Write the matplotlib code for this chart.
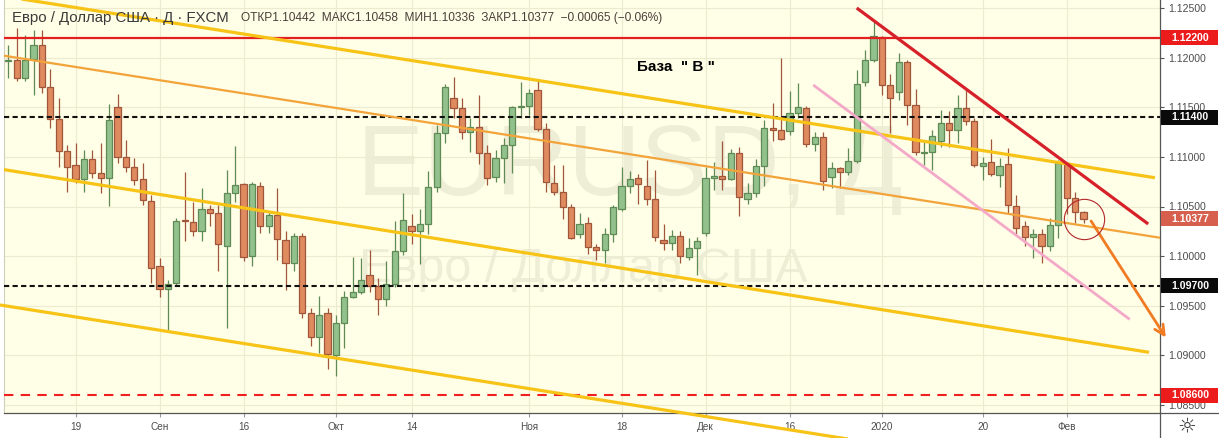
import matplotlib
matplotlib.use("Agg")
import matplotlib.pyplot as plt
import matplotlib.transforms as mtransforms
from matplotlib.patches import Rectangle
from matplotlib.lines import Line2D

plt.rcParams['font.family'] = ['Liberation Sans', 'DejaVu Sans']

# ---------------- data (daily EUR/USD candles, bar index 0 = first visible bar) -------------
opens = [1.1197, 1.1198, 1.1179, 1.1199, 1.1213, 1.1170, 1.1138, 1.1106, 1.1092, 1.1078,
         1.1098, 1.1084, 1.1079, 1.1150, 1.1100, 1.1090, 1.1078, 1.1056, 1.0990, 1.0967,
         1.0973, 1.1036, 1.1034, 1.1025, 1.1047, 1.1043, 1.1010, 1.1064, 1.1073, 1.1000,
         1.1071, 1.1030, 1.1041, 1.1016, 1.0993, 1.1020, 1.0943, 1.0919, 1.0943, 1.0900,
         1.0933, 1.0959, 1.0964, 1.0981, 1.0970, 1.0957, 1.0972, 1.1005, 1.1030, 1.1025,
         1.1032, 1.1070, 1.1124, 1.1159, 1.1149, 1.1125, 1.1130, 1.1104, 1.1080, 1.1099,
         1.1112, 1.1150, 1.1151, 1.1167, 1.1128, 1.1074, 1.1065, 1.1049, 1.1022, 1.1033,
         1.1009, 1.1006, 1.1022, 1.1047, 1.1071, 1.1079, 1.1071, 1.1058, 1.1016, 1.1013,
         1.1020, 1.0999, 1.1008, 1.1023, 1.1079, 1.1081, 1.1078, 1.1104, 1.1058, 1.1064,
         1.1091, 1.1129, 1.1127, 1.1126, 1.1144, 1.1149, 1.1113, 1.1120, 1.1080, 1.1089,
         1.1085, 1.1096, 1.1175, 1.1198, 1.1221, 1.1172, 1.1165, 1.1196, 1.1152, 1.1104,
         1.1105, 1.1116, 1.1134, 1.1127, 1.1149, 1.1136, 1.1091, 1.1095, 1.1082, 1.1093,
         1.1051, 1.1030, 1.1019, 1.1022, 1.1010, 1.1031, 1.1094, 1.1059, 1.10442]
highs = [1.1213, 1.1230, 1.1223, 1.1228, 1.1228, 1.1189, 1.1159, 1.1112, 1.1114, 1.1107,
         1.1107, 1.1114, 1.1153, 1.1163, 1.1117, 1.1099, 1.1094, 1.1062, 1.0998, 1.0976,
         1.1038, 1.1085, 1.1055, 1.1069, 1.1052, 1.1052, 1.1087, 1.1111, 1.1074, 1.1075,
         1.1075, 1.1045, 1.1069, 1.1025, 1.1023, 1.1023, 1.0948, 1.0960, 1.0948, 1.0941,
         1.0965, 1.0999, 1.0998, 1.1006, 1.0978, 1.0995, 1.1035, 1.1064, 1.1042, 1.1047,
         1.1086, 1.1132, 1.1173, 1.1180, 1.1159, 1.1139, 1.1162, 1.1112, 1.1107, 1.1119,
         1.1151, 1.1175, 1.1168, 1.1176, 1.1134, 1.1092, 1.1092, 1.1053, 1.1043, 1.1039,
         1.1012, 1.1028, 1.1052, 1.1090, 1.1086, 1.1083, 1.1097, 1.1087, 1.1032, 1.1026,
         1.1025, 1.1018, 1.1019, 1.1090, 1.1095, 1.1116, 1.1108, 1.1110, 1.1074, 1.1098,
         1.1137, 1.1154, 1.1200, 1.1166, 1.1174, 1.1151, 1.1125, 1.1125, 1.1095, 1.1090,
         1.1109, 1.1188, 1.1208, 1.1236, 1.1222, 1.1184, 1.1205, 1.1198, 1.1168, 1.1117,
         1.1127, 1.1147, 1.1146, 1.1162, 1.1169, 1.1139, 1.1100, 1.1118, 1.1099, 1.1109,
         1.1062, 1.1035, 1.1027, 1.1027, 1.1038, 1.1097, 1.1095, 1.1065, 1.10458]
lows = [1.1179, 1.1176, 1.1176, 1.1162, 1.1164, 1.1129, 1.1090, 1.1065, 1.1074, 1.1065,
        1.1079, 1.1064, 1.1051, 1.1094, 1.1085, 1.1072, 1.1052, 1.0973, 1.0959, 1.0926,
        1.0971, 1.1015, 1.1020, 1.1015, 1.1030, 1.0985, 1.0928, 1.1055, 1.0995, 1.0990,
        1.1023, 1.1023, 1.0996, 1.0966, 1.0985, 1.0938, 1.0909, 1.0902, 1.0886, 1.0879,
        1.0907, 1.0958, 1.0962, 1.0964, 1.0941, 1.0950, 1.0969, 1.1001, 1.1012, 1.0992,
        1.1022, 1.1065, 1.1114, 1.1139, 1.1118, 1.1105, 1.1093, 1.1072, 1.1075, 1.1074,
        1.1084, 1.1139, 1.1142, 1.1126, 1.1065, 1.1062, 1.1037, 1.1017, 1.1018, 1.1002,
        1.0996, 1.0993, 1.1014, 1.1045, 1.1064, 1.1053, 1.1052, 1.1015, 1.1006, 1.1006,
        1.0993, 1.0996, 1.0981, 1.1020, 1.1067, 1.1067, 1.1077, 1.1040, 1.1053, 1.1060,
        1.1071, 1.1116, 1.1117, 1.1122, 1.1139, 1.1110, 1.1106, 1.1067, 1.1069, 1.1069,
        1.1082, 1.1094, 1.1171, 1.1196, 1.1162, 1.1124, 1.1157, 1.1132, 1.1102, 1.1092,
        1.1087, 1.1110, 1.1110, 1.1114, 1.1132, 1.1090, 1.1077, 1.1081, 1.1070, 1.1043,
        1.1022, 1.1010, 1.0998, 1.0993, 1.1005, 1.1018, 1.1042, 1.1033, 1.10336]
closes = [1.1198, 1.1179, 1.1198, 1.1213, 1.1170, 1.1138, 1.1106, 1.1090, 1.1078, 1.1098,
          1.1084, 1.1079, 1.1137, 1.1100, 1.1090, 1.1077, 1.1057, 1.0988, 1.0967, 1.0972,
          1.1035, 1.1035, 1.1025, 1.1047, 1.1043, 1.1012, 1.1064, 1.1072, 1.0999, 1.1073,
          1.1030, 1.1041, 1.1017, 1.0993, 1.1020, 1.0943, 1.0919, 1.0941, 1.0901, 1.0933,
          1.0959, 1.0964, 1.0976, 1.0970, 1.0957, 1.0972, 1.1005, 1.1036, 1.1025, 1.1032,
          1.1070, 1.1124, 1.1170, 1.1149, 1.1125, 1.1130, 1.1104, 1.1079, 1.1099, 1.1112,
          1.1150, 1.1151, 1.1164, 1.1128, 1.1075, 1.1065, 1.1049, 1.1018, 1.1032, 1.1009,
          1.1006, 1.1022, 1.1049, 1.1071, 1.1078, 1.1073, 1.1058, 1.1019, 1.1013, 1.1020,
          1.1000, 1.1008, 1.1015, 1.1079, 1.1081, 1.1078, 1.1104, 1.1060, 1.1064, 1.1091,
          1.1129, 1.1127, 1.1118, 1.1144, 1.1150, 1.1113, 1.1120, 1.1076, 1.1089, 1.1085,
          1.1096, 1.1173, 1.1198, 1.1222, 1.1172, 1.1159, 1.1196, 1.1152, 1.1105, 1.1105,
          1.1121, 1.1134, 1.1127, 1.1149, 1.1136, 1.1092, 1.1094, 1.1083, 1.1091, 1.1052,
          1.1028, 1.1019, 1.1022, 1.1010, 1.1031, 1.1094, 1.1059, 1.1044, 1.10377]

tick_positions = [8, 18, 28, 39, 48, 62, 73, 83, 93, 104, 116, 126]
tick_labels = ["19", "Сен", "16", "Окт", "14", "Ноя", "18", "Дек", "16", "2020", "20", "Фев"]
price_ticks = [1.085, 1.090, 1.095, 1.100, 1.105, 1.110, 1.115, 1.120, 1.125]

level_red = 1.1220
levels_black = [1.1140, 1.0970]
level_red_dash = 1.0860
last_price = 1.10377

# trend lines: (bar index, price) endpoints
channel_top = [(-1.0, 1.12625), (136.5, 1.1079)]
channel_mid = [(-1.0, 1.12026), (137.5, 1.10180)]
channel_low = [(-1.0, 1.10878), (135.8, 1.09031)]
channel_bottom = [(-1.0, 1.09508), (100.5, 1.08150)]
resist_line = [(101.0, 1.1250), (135.7, 1.10324)]
support_line = [(95.83, 1.11724), (133.5, 1.09363)]
forecast_arrow = [(128.9, 1.10354), (137.8, 1.09180)]
circle_center = (128.0, 1.10374)
note_pos = (74.8, 1.11906)

# ---------------- figure ----------------
W, H = 1219, 438
fig = plt.figure(figsize=(W / 100, H / 100), dpi=100)
fig.patch.set_facecolor('white')
ax_l, ax_r, ax_b = 4, 1160, 413
ax = fig.add_axes([ax_l / W, (H - ax_b) / H, (ax_r - ax_l) / W, ax_b / H])
bg = '#fffee6'
ax.set_facecolor(bg)

x0 = (ax_l - 8.3) / 8.4
x1 = (ax_r - 8.3) / 8.4
ax.set_xlim(x0, x1)
ax.set_ylim(1.125 - (413 - 8) / 9925, 1.125 + 8 / 9925)

ax.set_axisbelow(True)
ax.grid(True, color='#ecebd0', lw=0.8)

# watermark
wm = '#eeedd6'
ax.text(0.5415, 0.528, 'EURUSD, Д', transform=ax.transAxes, fontsize=72,
        color=wm, ha='center', va='baseline', zorder=0.5)
ax.text(0.5009, 0.317, 'Евро / Доллар США', transform=ax.transAxes, fontsize=35,
        color=wm, ha='center', va='baseline', zorder=0.5)

# candles
g_fill, g_edge = '#93c18d', '#5e8a55'
r_fill, r_edge = '#e08a5f', '#a0563a'
idx = list(range(len(opens)))
for i, o, h, l, c in zip(idx, opens, highs, lows, closes):
    up = c >= o
    fill, edge = (g_fill, g_edge) if up else (r_fill, r_edge)
    ax.vlines(i, l, h, color=edge, lw=0.9, zorder=2.9)
    bottom = min(o, c)
    height = max(abs(c - o), 0.00003)
    ax.bar(i, height, bottom=bottom, width=0.72, color=fill, edgecolor=edge,
           linewidth=0.9, zorder=3)

# horizontal levels
ax.axhline(level_red, color='#e3201f', lw=1.6, zorder=4)
for lv in levels_black:
    ax.axhline(lv, color='#111111', lw=1.5, ls=(0, (2.5, 1.6)), zorder=4)
ax.axhline(level_red_dash, color='#f02020', lw=1.5, ls=(0, (4.5, 3.5)), zorder=4)

def seg(pts, **kw):
    (xa, ya), (xb, yb) = pts
    return ax.plot([xa, xb], [ya, yb], solid_capstyle='butt', **kw)

yellow = '#f7c316'
seg(channel_top, color=yellow, lw=2.3, zorder=5)
seg(channel_mid, color='#f2a33a', lw=1.6, zorder=5)
seg(channel_low, color=yellow, lw=2.3, zorder=5)
seg(channel_bottom, color=yellow, lw=2.3, zorder=5, clip_on=False)
seg(resist_line, color='#d6202a', lw=2.3, zorder=6)
seg(support_line, color='#f4a9c8', lw=2.0, zorder=6)

(ax0, ay0), (ax1, ay1) = forecast_arrow
ann = ax.annotate('', xy=(ax1, ay1), xytext=(ax0, ay0),
                  arrowprops=dict(arrowstyle='->,head_length=0.7,head_width=0.35',
                                  color='#f07b22', lw=2.0, shrinkA=0, shrinkB=0),
                  annotation_clip=False, zorder=7)
ann.arrow_patch.set_clip_on(False)

ax.plot([circle_center[0]], [circle_center[1]], marker='o', ms=29, mfc='none',
        mec='#b3262b', mew=0.8, zorder=7)

ax.text(note_pos[0], note_pos[1], 'База  " В "', fontsize=11, fontweight='bold',
        color='black', ha='left', va='center', zorder=8)

# axes styling
ax.spines['top'].set_visible(False)
ax.spines['left'].set_color('#d0d0c0')
ax.spines['left'].set_linewidth(0.8)
ax.spines['right'].set_color('#555555')
ax.spines['right'].set_linewidth(0.9)
ax.spines['bottom'].set_color('#555555')
ax.spines['bottom'].set_linewidth(0.9)

ax.yaxis.tick_right()
ax.set_yticks(price_ticks)
ax.set_yticklabels([f'{p:.5f}' for p in price_ticks])
ax.tick_params(axis='y', length=3, width=0.8, color='#555555', pad=3,
               labelsize=7.6, labelcolor='#4d4d4d')
ax.set_xticks(tick_positions)
ax.set_xticklabels(tick_labels)
ax.tick_params(axis='x', length=3, width=0.8, color='#999999', pad=3.5,
               labelsize=7.2, labelcolor='#4d4d4d')

# extend axis lines through corner
fig.add_artist(Line2D([ax_r / W, ax_r / W], [0, (H - ax_b) / H], color='#555555', lw=0.9))
fig.add_artist(Line2D([ax_r / W, 1], [(H - ax_b) / H, (H - ax_b) / H], color='#555555', lw=0.9))
fig.text(1187 / W, 1 - 426 / H, '☼', fontsize=15, ha='center', va='center',
         color='#333333', family=['DejaVu Sans'])

# price tags on the right axis
tr = mtransforms.blended_transform_factory(fig.transFigure, ax.transData)
tag_h = 15 / 9925
tags = [(level_red, '#ec1c1c'), (levels_black[0], '#0a0a0a'), (last_price, '#d6604d'),
        (levels_black[1], '#0a0a0a'), (level_red_dash, '#ec1c1c')]
for price, colr in tags:
    ax.add_patch(Rectangle(((ax_r + 1) / W, price - tag_h / 2), (W - ax_r - 2) / W, tag_h,
                           transform=tr, facecolor=colr, edgecolor='none',
                           clip_on=False, zorder=20))
    ax.text(1190 / W, price, f'{price:.5f}', transform=tr, color='white',
            fontsize=7.6, fontweight='bold', ha='center', va='center',
            clip_on=False, zorder=21)

# header
fig.text(12 / W, 1 - 18 / H, 'Евро / Доллар США · Д · FXCM', fontsize=10.8,
         color='#3a3a3a', ha='left', va='center')
fig.text(241 / W, 1 - 18 / H,
         'ОТКР1.10442  МАКС1.10458  МИН1.10336  ЗАКР1.10377  −0.00065 (−0.06%)',
         fontsize=8.6, color='#4a3f3a', ha='left', va='center')

fig.savefig('out.png', dpi=100, facecolor='white')
